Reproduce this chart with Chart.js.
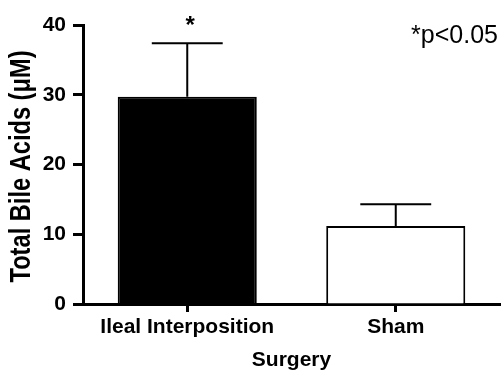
<!DOCTYPE html>
<html>
<head>
<meta charset="utf-8">
<script src="https://cdn.jsdelivr.net/npm/chart.js@4"></script>
<style>
  html, body { margin: 0; padding: 0; background: #fff; }
  canvas { display: block; }
</style>
</head>
<body>
<canvas id="chart" width="501" height="371"></canvas>
<script>
// Total bile acids by surgery group (mean + SEM)
const categories = ['Ileal Interposition', 'Sham'];
const meanBileAcids = [29.7, 11.2];
const semBileAcids = [7.7, 3.1];
const significance = ['*', ''];
const yTicks = [0, 10, 20, 30, 40];
const yTitle = 'Total Bile Acids (\u03BCM)';
const xTitle = 'Surgery';
const note = '*p<0.05';

const FONT = "'Liberation Sans', Arial, Helvetica, sans-serif";

// Upper SEM whiskers with caps, plus significance marks above them
const errorBars = {
  id: 'errorBars',
  afterDatasetsDraw(chart) {
    const { ctx, scales: { y } } = chart;
    const meta = chart.getDatasetMeta(0);
    ctx.save();
    ctx.strokeStyle = '#000';
    ctx.lineWidth = 2;
    meta.data.forEach((bar, i) => {
      const top = y.getPixelForValue(meanBileAcids[i] + semBileAcids[i]);
      const half = bar.width * 0.255;
      ctx.beginPath();
      ctx.moveTo(bar.x, bar.y);
      ctx.lineTo(bar.x, top);
      ctx.moveTo(bar.x - half, top);
      ctx.lineTo(bar.x + half, top);
      ctx.stroke();
      if (significance[i]) {
        ctx.fillStyle = '#000';
        ctx.font = 'bold 24px ' + FONT;
        ctx.textAlign = 'center';
        ctx.textBaseline = 'alphabetic';
        ctx.fillText(significance[i], bar.x + 3, top - 10);
      }
    });
    ctx.restore();
  }
};

// Condensed rotated y-axis title and the p-value note
const annotations = {
  id: 'annotations',
  afterDraw(chart) {
    const { ctx, chartArea } = chart;
    ctx.save();
    ctx.fillStyle = '#000';
    ctx.font = 'bold 29px ' + FONT;
    const w = ctx.measureText(yTitle).width;
    const cy = (chartArea.top + chartArea.bottom) / 2 + 2;
    ctx.translate(22, cy);
    ctx.rotate(-Math.PI / 2);
    ctx.scale(232 / w, 1);
    ctx.textAlign = 'center';
    ctx.textBaseline = 'middle';
    ctx.fillText(yTitle, 0, 0);
    ctx.restore();

    ctx.save();
    ctx.fillStyle = '#000';
    ctx.font = '25px ' + FONT;
    ctx.textAlign = 'right';
    ctx.textBaseline = 'alphabetic';
    ctx.fillText(note, chartArea.right - 2, 43);
    ctx.restore();
  }
};

new Chart(document.getElementById('chart'), {
  type: 'bar',
  data: {
    labels: categories,
    datasets: [{
      data: meanBileAcids,
      backgroundColor: ['#000', '#fff'],
      borderColor: '#000',
      borderWidth: 2,
      barPercentage: 0.667,
      categoryPercentage: 1
    }]
  },
  options: {
    responsive: false,
    animation: false,
    devicePixelRatio: 1,
    layout: { padding: { top: 25, right: 1, left: 0, bottom: 0 } },
    plugins: {
      legend: { display: false },
      tooltip: { enabled: false }
    },
    scales: {
      x: {
        offset: true,
        grid: {
          offset: false,
          drawOnChartArea: false,
          drawTicks: true,
          tickLength: 8,
          tickWidth: 3,
          tickColor: '#000',
          color: '#000'
        },
        border: { color: '#000', width: 3 },
        ticks: {
          color: '#000',
          padding: 3,
          font: { family: FONT, weight: 'bold', size: 21 }
        },
        title: {
          display: true,
          text: xTitle,
          color: '#000',
          padding: { top: 0, bottom: 0 },
          font: { family: FONT, weight: 'bold', size: 21, lineHeight: 1.0 }
        },
        afterFit: s => { s.height = 67; }
      },
      y: {
        min: 0,
        max: 40,
        afterBuildTicks: s => { s.ticks = yTicks.map(v => ({ value: v })); },
        grid: {
          drawOnChartArea: false,
          drawTicks: true,
          tickLength: 10,
          tickWidth: 3,
          tickColor: '#000',
          color: '#000'
        },
        border: { color: '#000', width: 3 },
        ticks: {
          color: '#000',
          padding: 7,
          font: { family: FONT, weight: 'bold', size: 21 }
        },
        afterFit: s => { s.width = 83; }
      }
    }
  },
  plugins: [errorBars, annotations]
});
</script>
</body>
</html>
